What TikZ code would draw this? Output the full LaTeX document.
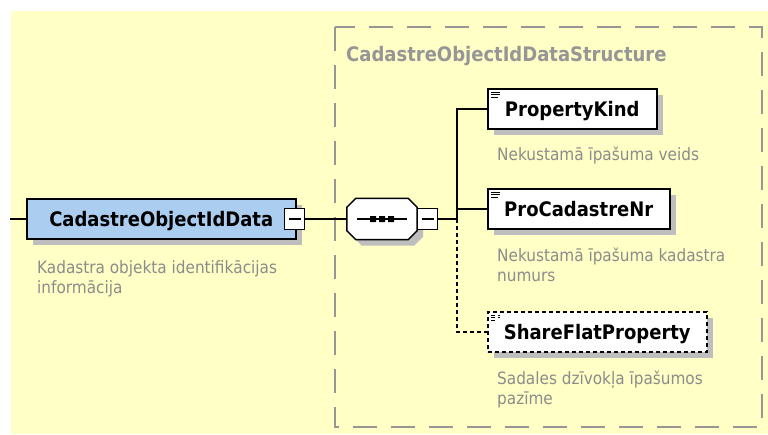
\documentclass[tikz,border=0pt]{standalone}
\usepackage{fontspec}
\setmainfont{DejaVu Sans Condensed}
\usepackage{tikz}
\usetikzlibrary{positioning, shadows}
\definecolor{bgyellow}{RGB}{255,255,198}
\definecolor{elemblue}{RGB}{170,205,240}
\definecolor{shade}{RGB}{190,190,190}
\definecolor{descgray}{RGB}{140,140,140}
\definecolor{grpgray}{RGB}{150,150,150}
\tikzset{x=1pt, y=-1pt,
every node/.style={inner sep=0pt},
shade box/.style={drop shadow={shadow xshift=6pt, shadow yshift=-6pt, fill=shade, opacity=1}},
elem/.style={draw, line width=1.5pt, fill=white, minimum height=40pt, anchor=west,
  font=\fontsize{20}{24}\selectfont\bfseries, text height=14.6pt, text depth=0pt, shade box},
doc/.style={path picture={
  \draw[line width=1pt] ([xshift=3pt,yshift=-3pt]path picture bounding box.north west) -- ++(9pt,0pt)
    ([xshift=3pt,yshift=-5.5pt]path picture bounding box.north west) -- ++(9pt,0pt)
    ([xshift=3pt,yshift=-8pt]path picture bounding box.north west) -- ++(7pt,0pt);}},
opt/.style={dash pattern=on 4pt off 3pt},
minus/.style={draw, line width=1.2pt, fill=white, minimum width=20pt, minimum height=21pt,
  path picture={\draw[line width=1.2pt] ([xshift=-6pt]path picture bounding box.center) -- ([xshift=6pt]path picture bounding box.center);}},
comp/.style={minimum width=70pt, minimum height=41pt},
octo/.style={draw, line width=1.5pt, fill=white, shade box},
desc/.style={anchor=base west, align=left, text=descgray, font=\fontsize{17}{20}\selectfont},
conn/.style={line width=1.2pt},
grp/.style={draw=grpgray, line width=2pt, dash pattern=on 24pt off 14pt},
}

\begin{document}
\begin{tikzpicture}
    \useasboundingbox (0,0) rectangle (768,434);
    \fill[bgyellow] (11,11) rectangle (768,434);
    \draw[grp] (335,27) rectangle (762,427);
    \node[anchor=base west, text=grpgray, font=\fontsize{20}{24}\selectfont\bfseries] (ttl) at (346,61) {CadastreObjectIdDataStructure};
    % element and its sequence
    \node[elem, fill=elemblue, minimum width=269pt] (cod) at (26,219) {CadastreObjectIdData};
    \node[minus] (m1) at ([xshift=-2pt]cod.east) {};
    \node[desc] (codd) at ([xshift=11pt,yshift=-54pt]cod.south west) {Kadastra objekta identifikācijas\\informācija};
    \node[comp] (seq) at (382,219) {};
    \draw[octo] ([xshift=9pt]seq.north west) -- ([xshift=-9pt]seq.north east) -- ([yshift=-9pt]seq.north east)
      -- ([yshift=9pt]seq.south east) -- ([xshift=-9pt]seq.south east) -- ([xshift=9pt]seq.south west)
      -- ([yshift=9pt]seq.south west) -- ([yshift=-9pt]seq.north west) -- cycle;
    \fill ([xshift=-12pt,yshift=-3pt]seq.center) rectangle ++(6pt,6pt)
          ([xshift=-3pt,yshift=-3pt]seq.center) rectangle ++(6pt,6pt)
          ([xshift=6pt,yshift=-3pt]seq.center) rectangle ++(6pt,6pt);
    \draw[conn] ([xshift=-25pt]seq.center) -- ([xshift=25pt]seq.center);
    \node[minus, anchor=west] (m2) at (seq.east) {};
    % children
    \node[elem, doc, minimum width=169pt] (pk) at (487,109) {PropertyKind};
    \node[elem, doc, minimum width=182pt] (pcn) at (487,209) {ProCadastreNr};
    \node[elem, doc, opt, minimum width=219pt] (sfp) at (487,332) {ShareFlatProperty};
    \node[desc] (pkd) at ([xshift=10pt,yshift=-31pt]pk.south west) {Nekustamā īpašuma veids};
    \node[desc] (pcnd) at ([xshift=10pt,yshift=-52pt]pcn.south west) {Nekustamā īpašuma kadastra\\numurs};
    \node[desc] (sfpd) at ([xshift=10pt,yshift=-52pt]sfp.south west) {Sadales dzīvokļa īpašumos\\pazīme};
    \coordinate (in) at (10,219);
    \coordinate (j) at (457,219);
    \draw[conn]
    (in) -- (cod.west)
    (m1.east) -- (seq.west)
    (m2.east) -- (j)
    (j) |- (pk.west)
    (j) |- (pcn.west);
    \draw[conn, opt] (j) |- (sfp.west);
\end{tikzpicture}
\end{document}
